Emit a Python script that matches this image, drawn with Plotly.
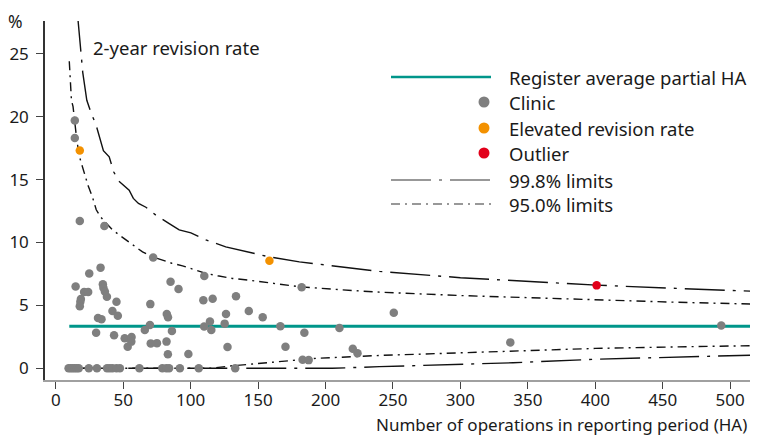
import plotly.graph_objects as go

# clinics: operations in reporting period vs. 2-year revision rate (%)
clinic_x = [9.5, 11, 12.5, 14, 15.5, 17, 24.5, 30.5, 38, 40, 42, 45, 47.5, 62, 79, 82, 84, 92, 106, 133,
            14.1, 14.1, 17.8, 36.0, 72.2, 33.2, 24.8, 14.7, 21, 24, 34.9, 35.3, 36.4, 37.9, 18.6, 18.2, 17.8,
            45, 42, 46, 31.3, 33.9, 29.9, 43.2, 51.1, 56.2, 53.3, 56, 70.1, 69.8, 66, 70.4, 75, 82.3, 83.2,
            85.1, 91, 86.1, 82.1, 83.1, 98.3, 110.1, 109.4, 116.3, 110, 114.3, 115.3, 126.2, 125.2, 127.3,
            133.6, 143.1, 153.4, 166.5, 170.3, 182.3, 184.3, 183, 187.5, 210.3, 220.2, 223.7, 250.6, 337,
            493.4, 517.7]
clinic_y = [0] * 20 + [
            19.7, 18.3, 11.7, 11.3, 8.8, 8.0, 7.54, 6.5, 6.07, 6.07, 6.68, 6.4, 6.1, 5.68, 5.5, 5.28, 4.94,
            5.28, 4.55, 4.18, 4.0, 3.89, 2.82, 2.63, 2.39, 2.48, 1.71, 2.12, 5.1, 3.45, 3.04, 1.98, 2.0, 4.31, 4.05,
            6.87, 6.3, 2.96, 2.12, 1.12, 1.14, 7.33, 5.4, 5.52, 3.32, 3.72, 3.05, 4.31, 3.55, 1.69,
            5.72, 4.55, 4.06, 3.35, 1.71, 6.44, 2.83, 0.68, 0.65, 3.2, 1.55, 1.19, 4.41, 2.06,
            3.41, 2.56]

elevated_x = [17.8, 158.4]
elevated_y = [17.3, 8.54]

outlier_x = [401]
outlier_y = [6.59]

avg_x = [10, 518]
avg_y = [3.35, 3.35]

# control limits
up998_x = [12, 16.3, 20, 23, 26.5, 29.7, 33, 35.3, 39.6, 43, 46.5, 50, 54.4, 57.5, 61.3, 66.8, 74.2, 84.1,
           91.5, 100.2, 111.4, 126, 143.5, 158.4, 180.6, 199.7, 240, 300, 350, 400.8, 460, 518]
up998_y = [33.0, 27.6, 23.5, 21.3, 20.2, 19.4, 18.1, 17.3, 16.8, 15.6, 14.9, 14.6, 14.15, 13.5, 13.1, 12.8,
           12.17, 11.5, 11.0, 10.76, 10.2, 9.65, 9.2, 8.85, 8.46, 8.2, 7.7, 7.2, 6.9, 6.61, 6.35, 6.12]

up95_x = [10, 11.6, 12.8, 14, 15.3, 17.3, 21, 24, 27.2, 30, 33.4, 37, 42, 47, 52, 58, 64.3, 72, 79.1, 86, 94,
          102, 111.4, 120, 131, 143.5, 160, 180.6, 210, 240, 300, 350, 400.8, 460, 518]
up95_y = [24.4, 21.3, 20.8, 19.6, 18.4, 16.9, 15.5, 14.5, 13.6, 12.6, 12.0, 11.6, 11.0, 10.6, 10.2, 9.7, 9.25,
          8.85, 8.6, 8.35, 8.14, 7.85, 7.54, 7.35, 7.14, 7.0, 6.75, 6.48, 6.25, 6.05, 5.78, 5.6, 5.42, 5.25, 5.1]

lo95_x = [10, 115, 131, 156, 193, 240, 300, 339, 400, 460, 518]
lo95_y = [0, 0, 0.2, 0.44, 0.79, 1.02, 1.25, 1.4, 1.58, 1.7, 1.8]

lo998_x = [10, 205, 240, 300, 339, 400, 460, 518]
lo998_y = [0, 0, 0.13, 0.3, 0.44, 0.72, 0.9, 1.05]

xticks = [0, 50, 100, 150, 200, 250, 300, 350, 400, 450, 500]
yticks = [0, 5, 10, 15, 20, 25]

legend_labels = ['Register average partial HA', 'Clinic', 'Elevated revision rate', 'Outlier',
                 '99.8% limits', '95.0% limits']

TEAL = '#00968a'
GREY = '#7f7f7f'
ORANGE = '#f39100'
RED = '#e2001a'
DASH998 = '40px,8px,3px,8px'
DASH95 = '9px,5px,2px,5px'
FONT = 'Noto Sans'
TXT = '#1a1a1a'

# the page body adds 8px all round; size the figure so the page never scrolls
OFF = 8
W, H = 758 - 2 * OFF, 444 - 2 * OFF
L, R, T, B = 45 - OFF, 0, 21 - OFF, H - (380 - OFF)
XMAX = 514.7  # keeps the reference scale (1.347 px per operation) up to the visible edge


def px(x):
    return (x - OFF - L) / (W - L - R)


def py(y):
    return (H - B - (y - OFF)) / (H - T - B)


fig = go.Figure()

for xs, ys, dash in [(up998_x, up998_y, DASH998), (lo998_x, lo998_y, DASH998),
                     (up95_x, up95_y, DASH95), (lo95_x, lo95_y, DASH95)]:
    fig.add_trace(go.Scatter(x=xs, y=ys, mode='lines', line=dict(color='#111', width=1.4, dash=dash),
                             showlegend=False, hoverinfo='skip'))

fig.add_trace(go.Scatter(x=avg_x, y=avg_y, mode='lines', line=dict(color=TEAL, width=3), showlegend=False))

for xs, ys, col in [(clinic_x, clinic_y, GREY), (elevated_x, elevated_y, ORANGE), (outlier_x, outlier_y, RED)]:
    fig.add_trace(go.Scatter(x=xs, y=ys, mode='markers', marker=dict(color=col, size=8.5, line_width=0),
                             cliponaxis=False, showlegend=False))

# hand-drawn legend
rows = [77, 102, 128, 153, 180, 204]
shapes = [
    dict(type='line', xref='paper', yref='paper', x0=px(391), x1=px(491), y0=py(rows[0]), y1=py(rows[0]),
         line=dict(color=TEAL, width=2.5)),
    dict(type='line', xref='paper', yref='paper', x0=px(391), x1=px(491), y0=py(rows[4]), y1=py(rows[4]),
         line=dict(color='#777', width=1.4, dash=DASH998)),
    dict(type='line', xref='paper', yref='paper', x0=px(391), x1=px(491), y0=py(rows[5]), y1=py(rows[5]),
         line=dict(color='#777', width=1.4, dash=DASH95)),
]
for row, col in zip(rows[1:4], [GREY, ORANGE, RED]):
    shapes.append(dict(type='circle', xref='paper', yref='paper', xsizemode='pixel', ysizemode='pixel',
                       xanchor=px(484), yanchor=py(row), x0=-5.5, x1=5.5, y0=-5.5, y1=5.5,
                       fillcolor=col, line_width=0))

annotations = [
    dict(text=lab, xref='paper', yref='paper', x=px(507), y=py(row), xanchor='left', yanchor='middle',
         showarrow=False, font=dict(size=18.5, color=TXT))
    for lab, row in zip(legend_labels, rows)
]
annotations += [
    dict(text='2-year revision rate', xref='paper', yref='paper', x=px(91), y=py(48), xanchor='left',
         yanchor='middle', showarrow=False, font=dict(size=18.5, color=TXT)),
    dict(text='%', xref='paper', yref='paper', x=px(6), y=py(21), xanchor='left', yanchor='middle',
         showarrow=False, font=dict(size=17.5, color=TXT)),
    dict(text='Number of operations in reporting period (HA)', xref='paper', yref='paper', x=px(749),
         y=py(425), xanchor='right', yanchor='middle', showarrow=False, font=dict(size=17, color=TXT)),
]

fig.update_layout(
    width=W, height=H,
    margin=dict(l=L, r=R, t=T, b=B),
    plot_bgcolor='white', paper_bgcolor='white',
    font=dict(family=FONT, size=17, color=TXT),
    shapes=shapes,
    annotations=annotations,
    xaxis=dict(range=[-8, XMAX], tickvals=xticks, ticks='outside', ticklen=7, tickcolor='#444', tickwidth=1.2,
               showline=True, linecolor='#a0a0a0', linewidth=2, showgrid=False, zeroline=False,
               ticklabelstandoff=-3),
    yaxis=dict(range=[-0.93, 27.6], tickvals=yticks, ticks='outside', ticklen=7, tickcolor='#444', tickwidth=1.2,
               showline=True, linecolor='#333', linewidth=1.5, showgrid=False, zeroline=False,
               ticklabelstandoff=4),
)

fig.write_html('out.html')
